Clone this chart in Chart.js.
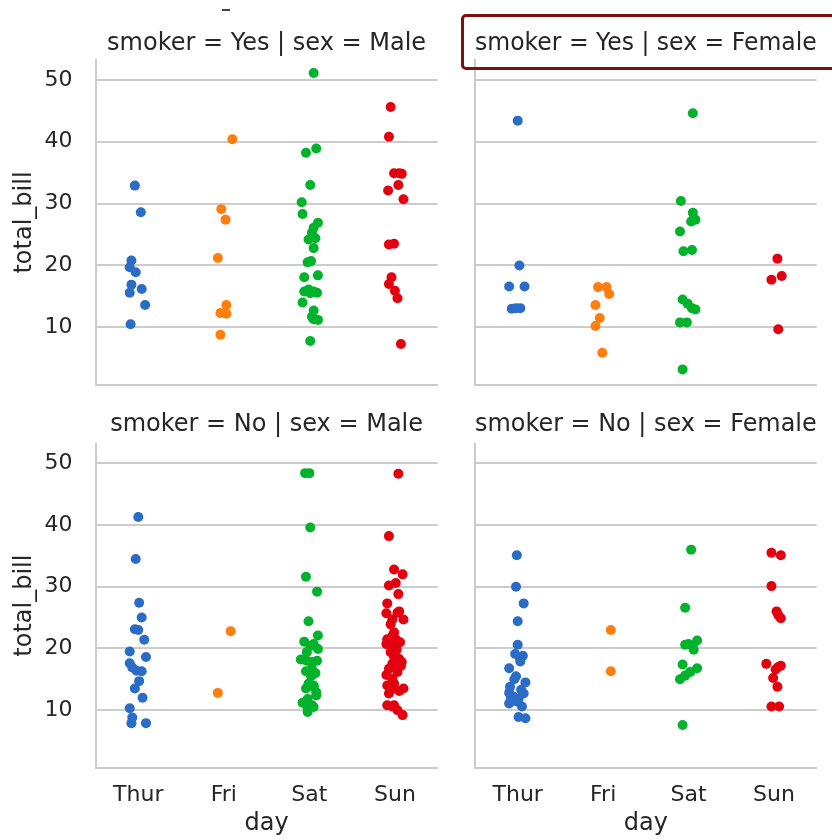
<!DOCTYPE html>
<html>
<head>
<meta charset="utf-8">
<title>total_bill by day, smoker and sex</title>
<script src="https://cdn.jsdelivr.net/npm/chart.js@4.4.1/dist/chart.umd.min.js"></script>
<style>
  html, body { margin: 0; padding: 0; background: #ffffff; }
  #wrap { position: relative; width: 832px; height: 840px; overflow: hidden; background: #ffffff; }
  #wrap canvas { position: absolute; }
  .frame {
    position: absolute; left: 461px; top: 14px; width: 390px; height: 56px;
    box-sizing: border-box; border: 3.5px solid #7a1010; border-radius: 5px;
  }
  .dash { position: absolute; left: 222px; top: 9px; width: 8px; height: 2px; background: #444444; }
</style>
</head>
<body>
<div id="wrap">
  <canvas id="yes-male" width="450" height="400" style="left:0;top:0"></canvas>
  <canvas id="yes-female" width="382" height="400" style="left:450px;top:0"></canvas>
  <canvas id="no-male" width="450" height="440" style="left:0;top:400px"></canvas>
  <canvas id="no-female" width="382" height="440" style="left:450px;top:400px"></canvas>
  <div class="frame"></div>
  <div class="dash"></div>
</div>
<script>
// Categories and ticks
const days = ['Thur', 'Fri', 'Sat', 'Sun'];
const yTicks = [10, 20, 30, 40, 50];
const dayColors = ['#2a6cc6', '#ff7f0e', '#00b32a', '#e3000f'];

// total_bill values, plus the strip jitter (in day units)
// smoker = Yes | sex = Male
const yesMaleThur = [32.9, 28.6, 20.8, 19.7, 18.9, 16.9, 15.6, 16.2, 13.6, 10.5];
const yesMaleThurJit = [-0.04, 0.03, -0.08, -0.10, -0.03, -0.08, -0.10, 0.04, 0.08, -0.09];
const yesMaleFri = [40.4, 29.1, 27.4, 21.2, 13.6, 12.3, 12.2, 8.8];
const yesMaleFriJit = [0.10, -0.03, 0.02, -0.07, 0.03, -0.04, 0.03, -0.04];
const yesMaleSat = [51.1, 38.9, 38.2, 33.0, 30.2, 28.3, 26.9, 26.1, 25.3, 24.2, 24.4, 22.8, 20.5, 20.7,
  18.1, 18.4, 15.8, 16.1, 15.8, 15.6, 15.5, 14.0, 12.7, 11.7, 11.2, 11.3, 7.8];
const yesMaleSatJit = [0.05, 0.08, -0.04, 0.01, -0.09, -0.08, 0.10, 0.05, 0.03, -0.01, 0.07, 0.05, -0.02, 0.02,
  -0.06, 0.10, -0.06, -0.01, 0.05, 0.09, 0.01, -0.08, 0.05, 0.03, 0.10, 0.05, 0.01];
const yesMaleSun = [45.6, 40.8, 34.9, 34.9, 34.8, 33.0, 32.1, 30.7, 23.4, 23.5, 18.1, 17.0, 15.9, 14.7, 7.3];
const yesMaleSunJit = [-0.05, -0.07, -0.01, 0.05, 0.08, 0.04, -0.08, 0.10, -0.07, -0.01, -0.04, -0.07, 0.00, 0.03, 0.07];

// smoker = Yes | sex = Female
const yesFemaleThur = [43.4, 20.0, 16.6, 16.6, 13.0, 13.1, 13.1];
const yesFemaleThurJit = [0.00, 0.02, -0.10, 0.08, -0.07, 0.03, -0.02];
const yesFemaleFri = [16.5, 16.5, 15.4, 13.6, 11.5, 10.2, 5.9];
const yesFemaleFriJit = [-0.06, 0.04, 0.07, -0.09, -0.04, -0.09, -0.01];
const yesFemaleSat = [44.6, 30.4, 28.5, 27.4, 27.1, 25.5, 22.3, 22.5, 14.5, 13.8, 12.9, 13.1, 10.8, 10.8, 3.2];
const yesFemaleSatJit = [0.05, -0.09, 0.05, 0.08, 0.03, -0.10, -0.06, 0.04, -0.07, -0.01, 0.08, 0.04, -0.10, -0.02, -0.07];
const yesFemaleSun = [21.1, 18.3, 17.7, 9.7];
const yesFemaleSunJit = [0.04, 0.09, -0.03, 0.05];

// smoker = No | sex = Male
const noMaleThur = [41.3, 34.5, 27.4, 25.0, 23.1, 23.0, 21.4, 19.5, 18.6, 17.6, 16.9, 16.4, 16.3, 14.7,
  13.5, 12.0, 10.3, 8.8, 7.9, 7.9];
const noMaleThurJit = [0.00, -0.03, 0.01, 0.04, -0.04, 0.00, 0.07, -0.10, 0.09, -0.10, -0.07, -0.02, 0.04, 0.01,
  -0.04, 0.05, -0.10, -0.07, -0.08, 0.09];
const noMaleFri = [22.8, 12.8];
const noMaleFriJit = [0.08, -0.07];
const noMaleSat = [48.4, 48.4, 39.6, 31.6, 29.2, 24.4, 22.1, 21.1, 20.7, 20.4, 19.9, 19.4, 18.2, 18.0, 18.0, 17.8,
  16.7, 16.3, 16.0, 15.5, 14.3, 14.0, 13.8, 13.5, 12.9, 12.4, 11.8, 11.2, 10.8, 10.5, 10.3, 9.7];
const noMaleSatJit = [-0.05, 0.00, 0.01, -0.04, 0.09, -0.01, 0.10, -0.06, 0.05, 0.01, 0.10, -0.03, -0.10, -0.03, 0.09, 0.03,
  0.03, -0.04, 0.07, 0.02, -0.01, 0.05, 0.05, -0.04, 0.08, 0.08, -0.02, -0.08, 0.03, 0.05, -0.02, -0.02];
const noMaleSun = [48.3, 38.2, 32.8, 32.0, 30.6, 30.2, 28.8, 27.3, 25.7, 25.8, 26.0, 24.7, 24.7, 23.9, 22.6,
  22.0, 21.5, 21.5, 21.0, 20.7, 20.4, 19.8, 19.4, 18.6, 18.3, 17.8, 17.5, 17.2, 16.7, 16.2, 15.7, 15.1,
  14.3, 14.0, 13.5, 13.3, 13.1, 12.7, 10.8, 10.8, 10.6, 10.0, 9.2];
const noMaleSunJit = [0.04, -0.07, -0.01, 0.09, 0.01, -0.07, 0.04, -0.09, -0.10, 0.03, 0.05, -0.03, 0.10, -0.05, -0.01,
  -0.03, -0.09, 0.01, 0.06, -0.10, -0.01, 0.02, -0.05, -0.01, 0.05, 0.08, -0.03, 0.07, -0.07, 0.03, -0.10, -0.03,
  -0.01, -0.09, 0.10, -0.05, 0.05, -0.07, -0.09, -0.01, -0.03, 0.03, 0.09];

// smoker = No | sex = Female
const noFemaleThur = [35.1, 30.0, 27.3, 24.4, 20.6, 19.1, 18.8, 18.3, 17.9, 16.8, 15.5, 15.0, 14.5, 13.8,
  13.3, 12.8, 12.7, 12.2, 12.0, 11.8, 11.4, 11.1, 10.6, 8.9, 8.7];
const noFemaleThurJit = [-0.01, -0.02, 0.07, 0.00, 0.00, -0.03, 0.06, 0.03, 0.03, -0.10, -0.02, -0.04, 0.09, -0.09,
  0.04, -0.10, 0.07, -0.05, -0.08, 0.01, -0.01, -0.10, 0.05, 0.01, 0.09];
const noFemaleFri = [23.0, 16.3];
const noFemaleFriJit = [0.09, 0.09];
const noFemaleSat = [36.0, 26.6, 21.3, 20.6, 20.4, 20.7, 19.8, 17.4, 16.8, 16.2, 15.6, 15.0, 7.6];
const noFemaleSatJit = [0.03, -0.04, 0.10, -0.04, 0.05, 0.00, 0.06, -0.07, 0.10, 0.02, -0.04, -0.10, -0.07];
const noFemaleSun = [35.5, 35.1, 30.1, 26.0, 24.9, 25.4, 17.5, 17.2, 17.0, 16.6, 15.2, 13.8, 10.6, 10.6];
const noFemaleSunJit = [-0.03, 0.08, -0.03, 0.03, 0.08, 0.05, -0.09, 0.08, 0.05, 0.02, -0.01, 0.04, -0.03, 0.06];

// Shared y range (data range plus 5% margins, as seaborn does)
const yMin = 0.68;
const yMax = 53.2;

Chart.defaults.font.family = "'DejaVu Sans', 'Liberation Sans', sans-serif";
Chart.defaults.color = '#262626';

const gridGrey = '#cccccc';

// One strip panel: values per day, jitter per day
const makePanel = (id, title, values, jitters, opts) => {
  const datasets = days.map((day, d) => ({
    label: day,
    data: values[d].map((v, i) => ({ x: d + jitters[d][i], y: v })),
    backgroundColor: dayColors[d],
    borderWidth: 0,
    pointRadius: 5,
    pointHoverRadius: 5
  }));

  return new Chart(document.getElementById(id), {
    type: 'scatter',
    data: { datasets },
    options: {
      responsive: false,
      animation: false,
      events: [],
      layout: { padding: { left: 0, top: 0, right: opts.padRight, bottom: opts.bottomRow ? 0 : 15 } },
      plugins: {
        legend: { display: false },
        tooltip: { enabled: false },
        title: {
          display: true,
          text: title,
          fullSize: false,
          color: '#262626',
          font: { size: 24, weight: 'normal', lineHeight: 1.2 },
          padding: opts.bottomRow ? { top: 10.6, bottom: 4.1 } : { top: 28.9, bottom: 2.3 }
        }
      },
      scales: {
        x: {
          type: 'linear',
          min: -0.5,
          max: 3.5,
          afterBuildTicks: (s) => { s.ticks = days.map((_, i) => ({ value: i })); },
          afterFit: (s) => { s.height = opts.bottomRow ? 72.3 : 0; },
          grid: { display: false, drawTicks: false },
          border: { display: true, color: gridGrey, width: 2 },
          ticks: {
            display: opts.bottomRow,
            padding: 14.1,
            autoSkip: false,
            maxRotation: 0,
            font: { size: 22 },
            color: '#262626',
            callback: (v) => days[v]
          },
          title: {
            display: opts.bottomRow,
            text: 'day',
            font: { size: 24 },
            color: '#262626',
            padding: { top: 0, bottom: 1.6 }
          }
        },
        y: {
          type: 'linear',
          min: yMin,
          max: yMax,
          afterBuildTicks: (s) => { s.ticks = yTicks.map(v => ({ value: v })); },
          afterFit: (s) => { s.width = opts.leftCol ? 95.5 : 25; },
          grid: {
            color: gridGrey,
            lineWidth: 2,
            drawTicks: opts.leftCol,
            tickLength: 23,
            tickColor: 'rgba(0,0,0,0)'
          },
          border: { display: true, color: gridGrey, width: 2 },
          ticks: {
            display: opts.leftCol,
            padding: 0,
            font: { size: 22 },
            color: '#262626'
          },
          title: {
            display: opts.leftCol,
            text: 'total_bill',
            font: { size: 24 },
            color: '#262626',
            padding: { top: 10.6, bottom: 0 }
          }
        }
      }
    }
  });
};

makePanel('yes-male', 'smoker = Yes | sex = Male',
  [yesMaleThur, yesMaleFri, yesMaleSat, yesMaleSun],
  [yesMaleThurJit, yesMaleFriJit, yesMaleSatJit, yesMaleSunJit],
  { leftCol: true, bottomRow: false, padRight: 12.3 });

makePanel('yes-female', 'smoker = Yes | sex = Female',
  [yesFemaleThur, yesFemaleFri, yesFemaleSat, yesFemaleSun],
  [yesFemaleThurJit, yesFemaleFriJit, yesFemaleSatJit, yesFemaleSunJit],
  { leftCol: false, bottomRow: false, padRight: 15.3 });

makePanel('no-male', 'smoker = No | sex = Male',
  [noMaleThur, noMaleFri, noMaleSat, noMaleSun],
  [noMaleThurJit, noMaleFriJit, noMaleSatJit, noMaleSunJit],
  { leftCol: true, bottomRow: true, padRight: 12.3 });

makePanel('no-female', 'smoker = No | sex = Female',
  [noFemaleThur, noFemaleFri, noFemaleSat, noFemaleSun],
  [noFemaleThurJit, noFemaleFriJit, noFemaleSatJit, noFemaleSunJit],
  { leftCol: false, bottomRow: true, padRight: 15.3 });
</script>
</body>
</html>
